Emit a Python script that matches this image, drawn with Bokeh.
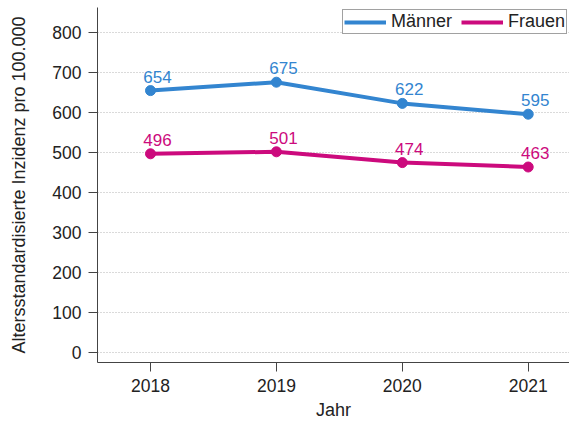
from bokeh.plotting import figure
from bokeh.models import ColumnDataSource, FixedTicker, Range1d, Legend, LegendItem
from bokeh.embed import file_html
from bokeh.resources import INLINE

years = [2018, 2019, 2020, 2021]
maenner = [654, 675, 622, 595]
frauen = [496, 501, 474, 463]
y_ticks = [0, 100, 200, 300, 400, 500, 600, 700, 800]
series_names = ["Männer", "Frauen"]
colors = ["#3385d0", "#cc0a7d"]

FONT = "Liberation Sans"

p = figure(width=569, height=424, output_backend="svg", toolbar_location=None,
           x_range=Range1d(2017.579, 2021.328), y_range=Range1d(-25.75, 861.75),
           min_border_left=97, min_border_right=0, min_border_top=7, min_border_bottom=62)
p.outline_line_color = None
p.background_fill_color = "white"
p.border_fill_color = "white"

renderers = []
for name, vals, col in zip(series_names, [maenner, frauen], colors):
    src = ColumnDataSource(dict(x=years, y=vals, t=[str(v) for v in vals]))
    r = p.line("x", "y", source=src, line_color=col, line_width=4)
    p.scatter("x", "y", source=src, size=10, fill_color=col, line_color=col)
    p.text("x", "y", text="t", source=src, text_color=col, text_font_size="17px",
           text_align="center", text_baseline="alphabetic", x_offset=7, y_offset=-14,
           text_font={"value": FONT})
    renderers.append((name, r))

for ax in (p.xaxis[0], p.yaxis[0]):
    ax.axis_line_color = "#444444"
    ax.major_tick_line_color = "#444444"
    ax.major_tick_out = 9
    ax.major_tick_in = 0
    ax.minor_tick_line_color = None
    ax.major_label_text_font = FONT
    ax.major_label_text_font_size = "17.5px"
    ax.major_label_text_color = "#222222"
    ax.axis_label_text_font = FONT
    ax.axis_label_text_font_size = "18px"
    ax.axis_label_text_font_style = "normal"
    ax.axis_label_text_color = "#222222"

p.xaxis.ticker = FixedTicker(ticks=years)
p.yaxis.ticker = FixedTicker(ticks=y_ticks)
p.xaxis.axis_label = "Jahr"
p.yaxis.axis_label = "Altersstandardisierte Inzidenz pro 100.000"
p.xaxis.major_label_standoff = 7
p.yaxis.major_label_standoff = 7
p.xaxis.axis_label_standoff = 5
p.yaxis.axis_label_standoff = 20

p.xgrid.grid_line_color = None
p.ygrid.grid_line_color = "#b4b4b4"
p.ygrid.grid_line_dash = "1 2"
p.ygrid.grid_line_width = 1

legend = Legend(items=[LegendItem(label=n, renderers=[r]) for n, r in renderers],
                orientation="horizontal", location=(245, 328))
legend.padding = 1
legend.margin = 0
legend.spacing = 9
legend.glyph_width = 42
legend.glyph_height = 18
legend.label_height = 18
legend.label_standoff = 5
legend.label_text_font = FONT
legend.label_text_font_size = "18px"
legend.label_text_color = "#222222"
legend.border_line_color = "#444444"
legend.border_line_width = 1
legend.background_fill_alpha = 1
p.add_layout(legend, "center")

open("out.html", "w").write(file_html(p, INLINE))
